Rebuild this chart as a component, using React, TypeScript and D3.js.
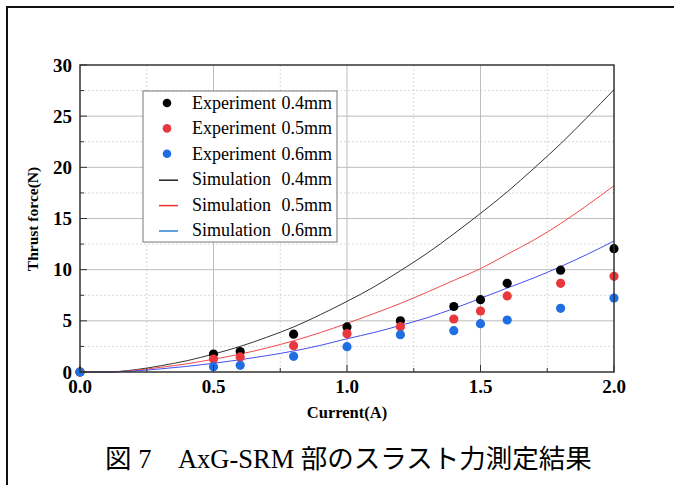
import React from 'react';
import * as d3 from 'd3';

// experiment currents (A) and measured thrust (N)
const expCurrent = [0, 0.5, 0.6, 0.8, 1.0, 1.2, 1.4, 1.5, 1.6, 1.8, 2.0];
const exp04 = [0, 1.76, 2.0, 3.7, 4.4, 5.0, 6.4, 7.07, 8.67, 9.95, 12.05];
const exp05 = [0, 1.27, 1.47, 2.57, 3.75, 4.43, 5.18, 5.96, 7.43, 8.67, 9.35];
const exp06 = [0, 0.52, 0.65, 1.53, 2.47, 3.65, 4.04, 4.72, 5.08, 6.22, 7.23];

const simCurrent = [0, 0.1, 0.2, 0.3, 0.4, 0.5, 0.6, 0.7, 0.8, 0.9, 1.0, 1.1, 1.2, 1.3, 1.4, 1.5, 1.6, 1.7, 1.8, 1.9, 2.0];
const sim04 = [0, 0, 0.2, 0.6, 1.1, 1.75, 2.5, 3.4, 4.4, 5.6, 6.9, 8.3, 9.9, 11.6, 13.5, 15.5, 17.6, 19.9, 22.3, 24.9, 27.6];
const sim05 = [0, 0, 0.15, 0.45, 0.8, 1.25, 1.75, 2.35, 3.05, 3.85, 4.75, 5.7, 6.7, 7.8, 8.95, 10.1, 11.5, 12.9, 14.5, 16.3, 18.2];
const sim06 = [0, 0, 0.1, 0.3, 0.55, 0.85, 1.2, 1.6, 2.05, 2.6, 3.25, 3.85, 4.55, 5.3, 6.2, 7.2, 8.2, 9.2, 10.3, 11.5, 12.8];

const xTicks = [0, 0.5, 1.0, 1.5, 2.0];
const xMinor = [0.25, 0.75, 1.25, 1.75];
const yTicks = [0, 5, 10, 15, 20, 25, 30];
const yMinor = [2.5, 7.5, 12.5, 17.5, 22.5, 27.5];

const legendLabels = ['Experiment', 'Experiment', 'Experiment', 'Simulation', 'Simulation', 'Simulation'];
const legendGaps = ['0.4mm', '0.5mm', '0.6mm', '0.4mm', '0.5mm', '0.6mm'];

const dotColors = ['#000000', '#e8383d', '#1f6fe3'];
const lineColors = ['#333333', '#f04a4a', '#4450ee'];
const legendLineColors = ['#222222', '#f03030', '#2f80d8'];

const serif = '"Liberation Serif", "Times New Roman", serif';

export default function App() {
  const W = 674;
  const H = 485;
  const left = 80, right = 614, top = 65, bottom = 372;

  const x = d3.scaleLinear().domain([0, 2]).range([left, right]);
  const y = d3.scaleLinear().domain([0, 30]).range([bottom, top]);

  const line = d3
    .line<number>()
    .x((_, i) => x(simCurrent[i]))
    .y((d) => y(d))
    .curve(d3.curveMonotoneX);

  const sims = [sim04, sim05, sim06];
  const exps = [exp04, exp05, exp06];

  const legX = 143, legY = 91, legW = 194, legH = 151;
  const rowY = (i: number) => legY + 12 + i * 25.4;

  return (
    <svg width={W} height={H} style={{ position: 'absolute', left: 0, top: 0, background: '#fff' }}>
      {/* outer frame of the figure */}
      <rect x={7} y={7} width={W + 20} height={H + 20} fill="none" stroke="#111" strokeWidth={2} />

      {/* grid */}
      {xMinor.map((v) => (
        <line key={'xm' + v} x1={x(v)} x2={x(v)} y1={top} y2={bottom} stroke="#cfcfcf" strokeDasharray="2,2" strokeWidth={0.8} />
      ))}
      {yMinor.map((v) => (
        <line key={'ym' + v} x1={left} x2={right} y1={y(v)} y2={y(v)} stroke="#cfcfcf" strokeDasharray="2,2" strokeWidth={0.8} />
      ))}
      {xTicks.slice(1, -1).map((v) => (
        <line key={'xg' + v} x1={x(v)} x2={x(v)} y1={top} y2={bottom} stroke="#bdbdbd" strokeWidth={1} />
      ))}
      {yTicks.slice(1, -1).map((v) => (
        <line key={'yg' + v} x1={left} x2={right} y1={y(v)} y2={y(v)} stroke="#bdbdbd" strokeWidth={1} />
      ))}

      {/* simulation curves */}
      {sims.map((s, k) => (
        <path key={'s' + k} d={line(s) || ''} fill="none" stroke={lineColors[k]} strokeWidth={1} />
      ))}

      {/* experiment points */}
      {exps.map((e, k) =>
        e.map((v, i) => (
          <circle key={'e' + k + '-' + i} cx={x(expCurrent[i])} cy={y(v)} r={4.6} fill={dotColors[k]} />
        ))
      )}

      {/* ticks */}
      {xTicks.map((v) => (
        <line key={'xt' + v} x1={x(v)} x2={x(v)} y1={bottom} y2={bottom - 7} stroke="#333" strokeWidth={1} />
      ))}
      {xMinor.map((v) => (
        <line key={'xtm' + v} x1={x(v)} x2={x(v)} y1={bottom} y2={bottom - 4} stroke="#333" strokeWidth={1} />
      ))}
      {yTicks.map((v) => (
        <line key={'yt' + v} x1={left} x2={left + 7} y1={y(v)} y2={y(v)} stroke="#333" strokeWidth={1} />
      ))}
      {yMinor.map((v) => (
        <line key={'ytm' + v} x1={left} x2={left + 4} y1={y(v)} y2={y(v)} stroke="#333" strokeWidth={1} />
      ))}

      {/* plot frame */}
      <rect x={left} y={top} width={right - left} height={bottom - top} fill="none" stroke="#333" strokeWidth={1.5} />

      {/* tick labels */}
      {xTicks.map((v) => (
        <text key={'xl' + v} x={x(v)} y={393} textAnchor="middle" fontFamily={serif} fontWeight="bold" fontSize={19}>
          {v.toFixed(1)}
        </text>
      ))}
      {yTicks.map((v) => (
        <text key={'yl' + v} x={72} y={y(v) + 6.5} textAnchor="end" fontFamily={serif} fontWeight="bold" fontSize={19}>
          {v}
        </text>
      ))}

      {/* axis titles */}
      <text x={(left + right) / 2} y={418} textAnchor="middle" fontFamily={serif} fontWeight="bold" fontSize={16.5}>
        Current(A)
      </text>
      <text
        transform={`translate(38, 219) rotate(-90)`}
        textAnchor="middle"
        fontFamily={serif}
        fontWeight="bold"
        fontSize={15.5}
      >
        Thrust force(N)
      </text>

      {/* legend */}
      <rect x={legX} y={legY} width={legW} height={legH} fill="#fff" stroke="#777" strokeWidth={1} />
      {legendLabels.map((lab, i) => (
        <g key={'lg' + i}>
          {i < 3 ? (
            <circle cx={167} cy={rowY(i)} r={4.3} fill={dotColors[i]} />
          ) : (
            <line x1={159} x2={178} y1={rowY(i) + 1} y2={rowY(i) + 1} stroke={legendLineColors[i - 3]} strokeWidth={1.5} />
          )}
          <text x={192} y={rowY(i) + 6} fontFamily={serif} fontSize={18}>
            {lab}
          </text>
          <text x={332} y={rowY(i) + 6} textAnchor="end" fontFamily={serif} fontSize={18}>
            {legendGaps[i]}
          </text>
        </g>
      ))}

      {/* caption */}
      <text x={105} y={468} fontFamily={'"Liberation Serif", "Noto Sans CJK JP", serif'} fontSize={26.5}>
        <tspan fontFamily='"Noto Sans CJK JP", sans-serif'>図</tspan>
        <tspan> 7</tspan>
        <tspan fontFamily='"Noto Sans CJK JP", sans-serif'>{'\u3000'}</tspan>
        <tspan>AxG-SRM </tspan>
        <tspan fontFamily='"Noto Sans CJK JP", sans-serif'>部のスラスト力測定結果</tspan>
      </text>
    </svg>
  );
}
